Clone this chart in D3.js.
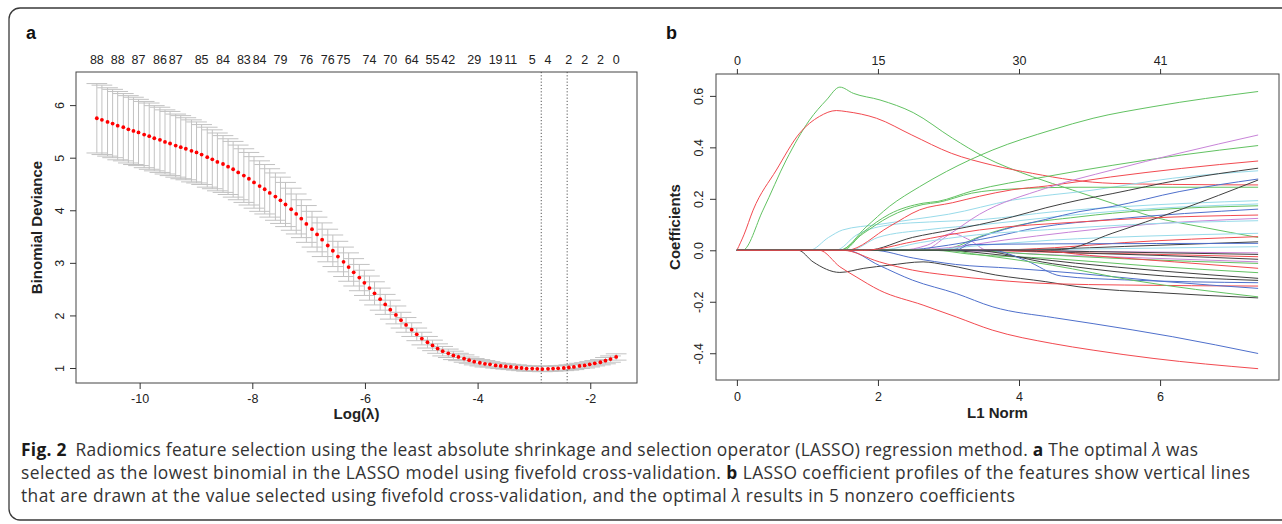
<!DOCTYPE html>
<html>
<head>
<meta charset="utf-8">
<script src="https://cdn.jsdelivr.net/npm/d3@7"></script>
<style>
  body { margin: 0; background: #fff; }
  svg text { font-family: "Liberation Sans", Arial, sans-serif; }
</style>
</head>
<body>
<div id="chart"></div>
<script>
// ---------- panel a : cross-validation curve ----------
const logLambda = [
  -10.76,-10.67,-10.57,-10.48,-10.39,-10.29,-10.20,-10.11,-10.02,-9.92,
  -9.83,-9.74,-9.64,-9.55,-9.46,-9.36,-9.27,-9.18,-9.08,-8.99,
  -8.90,-8.80,-8.71,-8.62,-8.52,-8.43,-8.34,-8.25,-8.15,-8.06,
  -7.97,-7.87,-7.78,-7.69,-7.59,-7.50,-7.41,-7.31,-7.22,-7.13,
  -7.04,-6.94,-6.85,-6.76,-6.66,-6.57,-6.48,-6.38,-6.29,-6.20,
  -6.10,-6.01,-5.92,-5.83,-5.73,-5.64,-5.55,-5.45,-5.36,-5.27,
  -5.17,-5.08,-4.99,-4.89,-4.80,-4.71,-4.62,-4.52,-4.43,-4.34,
  -4.24,-4.15,-4.06,-3.96,-3.87,-3.78,-3.68,-3.59,-3.50,-3.41,
  -3.31,-3.22,-3.13,-3.03,-2.94,-2.85,-2.75,-2.66,-2.57,-2.47,
  -2.38,-2.29,-2.19,-2.10,-2.01,-1.92,-1.82,-1.73,-1.64,-1.54
];
const cvMean = [
  5.75,5.72,5.68,5.65,5.61,5.58,5.54,5.51,5.48,5.44,
  5.41,5.37,5.34,5.30,5.27,5.23,5.20,5.17,5.13,5.10,
  5.06,5.01,4.97,4.92,4.88,4.83,4.78,4.72,4.66,4.60,
  4.53,4.46,4.40,4.33,4.26,4.19,4.11,4.02,3.93,3.84,
  3.74,3.64,3.54,3.44,3.33,3.23,3.12,3.02,2.92,2.82,
  2.72,2.62,2.52,2.42,2.31,2.21,2.11,2.01,1.91,1.82,
  1.73,1.64,1.56,1.49,1.43,1.37,1.32,1.28,1.24,1.21,
  1.18,1.15,1.12,1.10,1.08,1.07,1.05,1.04,1.03,1.02,
  1.01,1.00,0.99,0.99,0.985,0.98,0.985,0.99,0.995,1.00,
  1.01,1.02,1.04,1.05,1.07,1.09,1.11,1.14,1.17,1.21
];
const cvSd = [
  0.66,0.66,0.65,0.65,0.65,0.64,0.64,0.64,0.63,0.63,
  0.63,0.62,0.62,0.61,0.61,0.60,0.60,0.59,0.59,0.58,
  0.57,0.57,0.56,0.55,0.54,0.53,0.53,0.52,0.51,0.50,
  0.49,0.48,0.47,0.46,0.45,0.44,0.42,0.40,0.38,0.36,
  0.35,0.34,0.33,0.32,0.31,0.30,0.29,0.28,0.27,0.26,
  0.25,0.24,0.23,0.22,0.21,0.19,0.18,0.17,0.15,0.14,
  0.13,0.12,0.12,0.11,0.10,0.09,0.09,0.08,0.08,0.07,
  0.07,0.06,0.06,0.06,0.06,0.05,0.05,0.05,0.05,0.05,
  0.05,0.05,0.05,0.05,0.05,0.05,0.05,0.05,0.05,0.05,
  0.05,0.05,0.05,0.05,0.05,0.05,0.05,0.06,0.06,0.06
];
const lambdaLines = [-2.87, -2.41];
const nzeroAt = [-10.76,-10.39,-10.02,-9.64,-9.36,-8.90,-8.52,-8.15,-7.87,-7.50,-7.04,-6.66,-6.38,
                 -5.92,-5.55,-5.17,-4.80,-4.52,-4.06,-3.68,-3.41,-3.03,-2.75,-2.38,-2.10,-1.82,-1.54];
const nzeroLabels = ["88","88","87","86","87","85","84","83","84","79","76","76","75",
                     "74","70","64","55","42","29","19","11","5","4","2","2","2","0"];
const xTicksA = [-10, -8, -6, -4, -2];
const yTicksA = [1, 2, 3, 4, 5, 6];

// ---------- panel b : coefficient paths ----------
const l1Ticks = [0, 2, 4, 6];
const dfLabels = ["0", "15", "30", "41"];
const coefTicks = [-0.4, -0.2, 0, 0.2, 0.4, 0.6];
const pathColor = [
  "green","red","black","red","cyan","cyan","green","green","green","cyan",
  "blue","red","red","blue","magenta","magenta","green","blue","blue","magenta",
  "cyan","cyan","red","black","blue","cyan","black","red","black","magenta",
  "green","red","green","black","black","blue","green","black","black","red"
];
const coefPaths = [
  [[0.08,0],[0.37,0.156],[0.70,0.351],[1.03,0.506],[1.27,0.584],[1.46,0.634],[1.65,0.610],[2.03,0.584],[2.50,0.535],[3.06,0.435],[3.50,0.364],[4.19,0.286],[4.76,0.234],[5.33,0.182],[5.90,0.130],[6.60,0.090],[7.39,0.050]],
  [[0,0],[0.10,0.06],[0.23,0.156],[0.56,0.312],[0.89,0.455],[1.17,0.520],[1.41,0.543],[1.55,0.539],[1.98,0.513],[2.48,0.448],[3.04,0.377],[3.62,0.331],[4.19,0.299],[4.76,0.273],[5.33,0.260],[6.18,0.256],[7.39,0.254]],
  [[0.87,0],[1.08,-0.045],[1.46,-0.086],[1.80,-0.070],[2.16,-0.058],[2.64,-0.045],[2.97,-0.057],[3.67,-0.096],[4.38,-0.122],[4.85,-0.142],[6.00,-0.165],[7.39,-0.185]],
  [[1.17,0],[1.46,-0.064],[1.69,-0.103],[2.02,-0.155],[2.64,-0.213],[3.11,-0.259],[3.62,-0.310],[4.47,-0.362],[5.05,-0.388],[5.90,-0.420],[7.39,-0.460]],
  [[1.03,0],[1.30,0.050],[1.50,0.079],[2.00,0.100],[2.50,0.120],[3.00,0.140],[3.91,0.195],[5.05,0.234],[6.18,0.280],[7.39,0.309]],
  [[1.40,0],[1.70,0.060],[2.20,0.100],[2.73,0.110],[3.50,0.120],[4.50,0.150],[5.50,0.170],[7.39,0.193]],
  [[1.50,0],[1.79,0.070],[2.16,0.140],[2.64,0.183],[2.85,0.190],[3.33,0.230],[4.38,0.286],[5.32,0.330],[6.30,0.370],[7.39,0.407]],
  [[1.45,0],[1.79,0.065],[2.16,0.130],[2.64,0.178],[2.85,0.186],[3.33,0.222],[3.90,0.238],[4.85,0.245],[7.39,0.245]],
  [[1.46,0],[1.83,0.090],[2.16,0.170],[2.59,0.247],[2.97,0.306],[3.63,0.390],[4.47,0.468],[5.05,0.513],[5.90,0.558],[7.39,0.617]],
  [[1.60,0],[2.00,0.050],[2.70,0.080],[3.50,0.100],[4.50,0.130],[5.50,0.155],[7.39,0.180]],
  [[1.55,0],[2.02,-0.059],[2.49,-0.116],[3.11,-0.168],[3.63,-0.220],[4.50,-0.262],[5.05,-0.285],[6.18,-0.336],[7.39,-0.401]],
  [[1.50,0],[2.02,-0.045],[2.49,-0.077],[2.97,-0.096],[3.67,-0.116],[4.47,-0.130],[5.50,-0.135],[7.39,-0.139]],
  [[1.55,0],[2.16,0.092],[2.59,0.157],[3.06,0.185],[3.44,0.210],[3.90,0.235],[4.40,0.250],[5.30,0.285],[6.30,0.318],[7.39,0.347]],
  [[1.93,0],[2.50,-0.030],[3.10,-0.055],[3.91,-0.070],[4.85,-0.090],[6.00,-0.120],[7.39,-0.148]],
  [[2.30,0],[2.70,0.020],[3.05,0.065],[3.30,0.040],[3.55,0],[4.50,-0.003],[5.50,-0.006],[7.39,-0.010]],
  [[2.63,0],[3.00,0.060],[3.44,0.140],[4.38,0.241],[5.32,0.312],[6.27,0.377],[7.39,0.448]],
  [[2.90,0],[3.06,0.010],[3.44,0.053],[3.91,0.092],[4.85,0.130],[5.80,0.155],[7.39,0.173]],
  [[3.00,0],[3.44,0.050],[3.91,0.090],[4.38,0.120],[4.85,0.150],[5.32,0.170],[6.27,0.228],[7.39,0.277]],
  [[2.30,0],[3.00,0.020],[3.60,0.050],[4.30,0.090],[5.30,0.120],[7.39,0.160]],
  [[2.40,0],[3.00,0.010],[3.80,0.040],[4.70,0.070],[5.80,0.100],[7.39,0.124]],
  [[2.00,0],[2.60,0.030],[3.40,0.060],[4.40,0.080],[5.60,0.100],[7.39,0.115]],
  [[2.60,0],[3.50,0.020],[4.50,0.040],[5.80,0.055],[7.39,0.066]],
  [[3.50,0],[4.50,0.010],[5.50,0.030],[7.39,0.053]],
  [[3.20,0],[4.50,0.005],[5.50,0.015],[7.39,0.033]],
  [[3.10,0],[3.30,0.022],[4.50,0.025],[7.39,0.027]],
  [[3.80,0],[5.00,0.005],[7.39,0.014]],
  [[3.90,0],[5.00,-0.005],[7.39,-0.016]],
  [[3.30,0],[4.50,-0.008],[5.80,-0.015],[7.39,-0.025]],
  [[3.70,0],[4.80,-0.010],[6.00,-0.020],[7.39,-0.035]],
  [[2.50,0],[3.50,-0.005],[4.50,-0.018],[5.80,-0.030],[7.39,-0.045]],
  [[3.20,0],[4.20,-0.015],[5.50,-0.033],[7.39,-0.051]],
  [[4.20,0],[5.00,-0.020],[6.20,-0.045],[7.39,-0.070]],
  [[2.80,0],[3.30,-0.015],[4.47,-0.032],[5.80,-0.060],[7.39,-0.087]],
  [[2.90,0],[3.80,-0.020],[4.80,-0.050],[6.00,-0.080],[7.39,-0.109]],
  [[3.33,0],[4.47,-0.052],[5.62,-0.090],[7.39,-0.117]],
  [[3.60,0],[4.10,-0.040],[4.60,-0.100],[5.50,-0.115],[7.39,-0.126]],
  [[3.00,0],[3.33,-0.013],[4.47,-0.058],[5.62,-0.117],[7.39,-0.181]],
  [[3.60,0],[4.60,0.003],[5.32,0.066],[6.27,0.156],[7.39,0.273]],
  [[1.83,0],[2.49,0.050],[3.06,0.080],[3.44,0.100],[3.91,0.130],[4.38,0.165],[4.85,0.195],[5.32,0.220],[6.27,0.273],[7.39,0.319]],
  [[1.80,0],[2.49,0.033],[3.00,0.060],[3.44,0.079],[4.85,0.110],[5.80,0.125],[7.39,0.137]]
];

// ---------- caption ----------
const captionRuns = [
  [["Fig. 2","bold"],[" Radiomics feature selection using the least absolute shrinkage and selection operator (LASSO) regression method. ",""],["a","bold"],[" The optimal ",""],["λ","italic"],[" was",""]],
  [["selected as the lowest binomial in the LASSO model using fivefold cross-validation. ",""],["b","bold"],[" LASSO coefficient profiles of the features show vertical lines",""]],
  [["that are drawn at the value selected using fivefold cross-validation, and the optimal ",""],["λ","italic"],[" results in 5 nonzero coefficients",""]]
];

const palette = {
  black: "#404040", red: "#f24a50", green: "#62c262",
  blue: "#4f70cc", cyan: "#98dbea", magenta: "#c884d8"
};

const w = 1282, h = 524;
const svg = d3.select("#chart").append("svg")
  .attr("width", w)
  .attr("height", h);

// outer frame
svg.append("rect")
  .attr("x", 9).attr("y", 8)
  .attr("width", 1300).attr("height", 512)
  .attr("rx", 11)
  .attr("fill", "none")
  .attr("stroke", "#3a3a3a")
  .attr("stroke-width", 1.3);

function fixAxis(g) {
  g.attr("font-family", "Liberation Sans, Arial, sans-serif").attr("font-size", 12.5);
  g.select(".domain").remove();
  g.selectAll(".tick line").attr("stroke", "#333");
  g.selectAll(".tick text").attr("fill", "#222");
}

// ================= panel a =================
const boxA = { l: 76, r: 637, t: 72, b: 383 };
const xA = d3.scaleLinear().domain([-11.13, -1.17]).range([boxA.l, boxA.r]);
const yA = d3.scaleLinear().domain([0.715, 6.63]).range([boxA.b, boxA.t]);

svg.append("text").attr("x", 26).attr("y", 39)
  .attr("font-size", 18).attr("font-weight", "bold").attr("fill", "#111").text("a");

// error bars
const barw = 0.184;
const bars = svg.append("g").attr("stroke", "#c2c2c2").attr("stroke-width", 1);
logLambda.forEach((l, i) => {
  const up = cvMean[i] + cvSd[i], lo = cvMean[i] - cvSd[i];
  bars.append("line").attr("x1", xA(l)).attr("x2", xA(l)).attr("y1", yA(up)).attr("y2", yA(lo));
  bars.append("line").attr("x1", xA(l - barw)).attr("x2", xA(l + barw)).attr("y1", yA(up)).attr("y2", yA(up));
  bars.append("line").attr("x1", xA(l - barw)).attr("x2", xA(l + barw)).attr("y1", yA(lo)).attr("y2", yA(lo));
});

// lambda.min / lambda.1se
svg.selectAll(".vline")
  .data(lambdaLines)
  .enter()
  .append("line")
  .attr("x1", d => xA(d)).attr("x2", d => xA(d))
  .attr("y1", boxA.t).attr("y2", boxA.b)
  .attr("stroke", "#555")
  .attr("stroke-width", 1)
  .attr("stroke-dasharray", "1.2,2");

// mean points
svg.selectAll(".cvpt")
  .data(logLambda)
  .enter()
  .append("circle")
  .attr("cx", d => xA(d))
  .attr("cy", (d, i) => yA(cvMean[i]))
  .attr("r", 1.9)
  .attr("fill", "#ff0000");

svg.append("rect")
  .attr("x", boxA.l).attr("y", boxA.t)
  .attr("width", boxA.r - boxA.l).attr("height", boxA.b - boxA.t)
  .attr("fill", "none").attr("stroke", "#444");

const axAx = svg.append("g").attr("transform", "translate(0," + boxA.b + ")")
  .call(d3.axisBottom(xA).tickValues(xTicksA).tickSize(6).tickPadding(5).tickFormat(d => String(d)));
fixAxis(axAx);

const axAy = svg.append("g").attr("transform", "translate(" + boxA.l + ",0)")
  .call(d3.axisLeft(yA).tickValues(yTicksA).tickSize(6).tickFormat(d => String(d)));
fixAxis(axAy);
axAy.selectAll(".tick text")
  .attr("transform", "rotate(-90)")
  .attr("x", 0).attr("y", -12.5).attr("dy", 0)
  .attr("text-anchor", "middle");

svg.append("g").selectAll("text")
  .data(nzeroAt)
  .enter()
  .append("text")
  .attr("x", d => xA(d))
  .attr("y", 64)
  .attr("text-anchor", "middle")
  .attr("font-size", 12.5)
  .attr("fill", "#222")
  .text((d, i) => nzeroLabels[i]);

svg.append("text")
  .attr("x", (boxA.l + boxA.r) / 2).attr("y", 419)
  .attr("text-anchor", "middle").attr("font-size", 15).attr("font-weight", "bold").attr("fill", "#222")
  .text("Log(λ)");

svg.append("text")
  .attr("transform", "rotate(-90)")
  .attr("x", -(boxA.t + boxA.b) / 2).attr("y", 41.5)
  .attr("text-anchor", "middle").attr("font-size", 15).attr("font-weight", "bold").attr("fill", "#222")
  .text("Binomial Deviance");

// ================= panel b =================
const boxB = { l: 716, r: 1279, t: 74, b: 380 };
const xB = d3.scaleLinear().domain([-0.296, 7.686]).range([boxB.l, boxB.r]);
const yB = d3.scaleLinear().domain([-0.504, 0.685]).range([boxB.b, boxB.t]);

svg.append("text").attr("x", 666).attr("y", 39)
  .attr("font-size", 18).attr("font-weight", "bold").attr("fill", "#111").text("b");

const line = d3.line()
  .x(d => xB(d[0]))
  .y(d => yB(d[1]))
  .curve(d3.curveMonotoneX);

svg.append("g").selectAll("path")
  .data(coefPaths)
  .enter()
  .append("path")
  .attr("d", d => line(d[0][0] > 0 ? [[0, 0]].concat(d) : d))
  .attr("fill", "none")
  .attr("stroke", (d, i) => palette[pathColor[i]])
  .attr("stroke-width", 1);

svg.append("rect")
  .attr("x", boxB.l).attr("y", boxB.t)
  .attr("width", boxB.r - boxB.l).attr("height", boxB.b - boxB.t)
  .attr("fill", "none").attr("stroke", "#444");

const axBx = svg.append("g").attr("transform", "translate(0," + boxB.b + ")")
  .call(d3.axisBottom(xB).tickValues(l1Ticks).tickSize(6).tickPadding(6).tickFormat(d => String(d)));
fixAxis(axBx);

const axBtop = svg.append("g").attr("transform", "translate(0," + boxB.t + ")")
  .call(d3.axisTop(xB).tickValues(l1Ticks).tickSize(5).tickPadding(4).tickFormat((d, i) => dfLabels[i]));
fixAxis(axBtop);

const axBy = svg.append("g").attr("transform", "translate(" + boxB.l + ",0)")
  .call(d3.axisLeft(yB).tickValues(coefTicks).tickSize(6).tickFormat(d => d.toFixed(1)));
fixAxis(axBy);
axBy.selectAll(".tick text")
  .attr("transform", "rotate(-90)")
  .attr("x", 0).attr("y", -13.5).attr("dy", 0)
  .attr("text-anchor", "middle");

svg.append("text")
  .attr("x", (boxB.l + boxB.r) / 2).attr("y", 418)
  .attr("text-anchor", "middle").attr("font-size", 15).attr("font-weight", "bold").attr("fill", "#222")
  .text("L1 Norm");

svg.append("text")
  .attr("transform", "rotate(-90)")
  .attr("x", -(boxB.t + boxB.b) / 2).attr("y", 680)
  .attr("text-anchor", "middle").attr("font-size", 15).attr("font-weight", "bold").attr("fill", "#222")
  .text("Coefficients");

// ================= caption =================
const capX = 21;
const capY = [456, 479, 502];
const capEnd = [1198, 1250, 1015];
const capG = svg.append("g");
const capNodes = captionRuns.map((runs, i) => {
  const t = capG.append("text")
    .attr("x", capX).attr("y", capY[i])
    .attr("font-size", 16)
    .attr("fill", "#333")
    .style("font-family", "'Open Sans', 'Noto Sans', sans-serif");
  runs.forEach((r, k) => {
    const s = t.append("tspan").text(r[0]);
    if (r[1] === "bold") s.attr("font-weight", "bold").attr("fill", "#1a1a1a");
    if (r[1] === "italic") s.attr("font-style", "italic");
    if (i === 0 && k === 1) s.attr("dx", 4);
  });
  return t;
});
// fit the caption to the measured line widths of the reference
const natural = capNodes[1].node().getComputedTextLength();
const fs = 0.95 * 16 * (capEnd[1] - capX) / natural;
capNodes.forEach((t, i) => {
  t.attr("font-size", fs)
    .attr("textLength", capEnd[i] - capX)
    .attr("lengthAdjust", "spacing");
});
</script>
</body>
</html>
